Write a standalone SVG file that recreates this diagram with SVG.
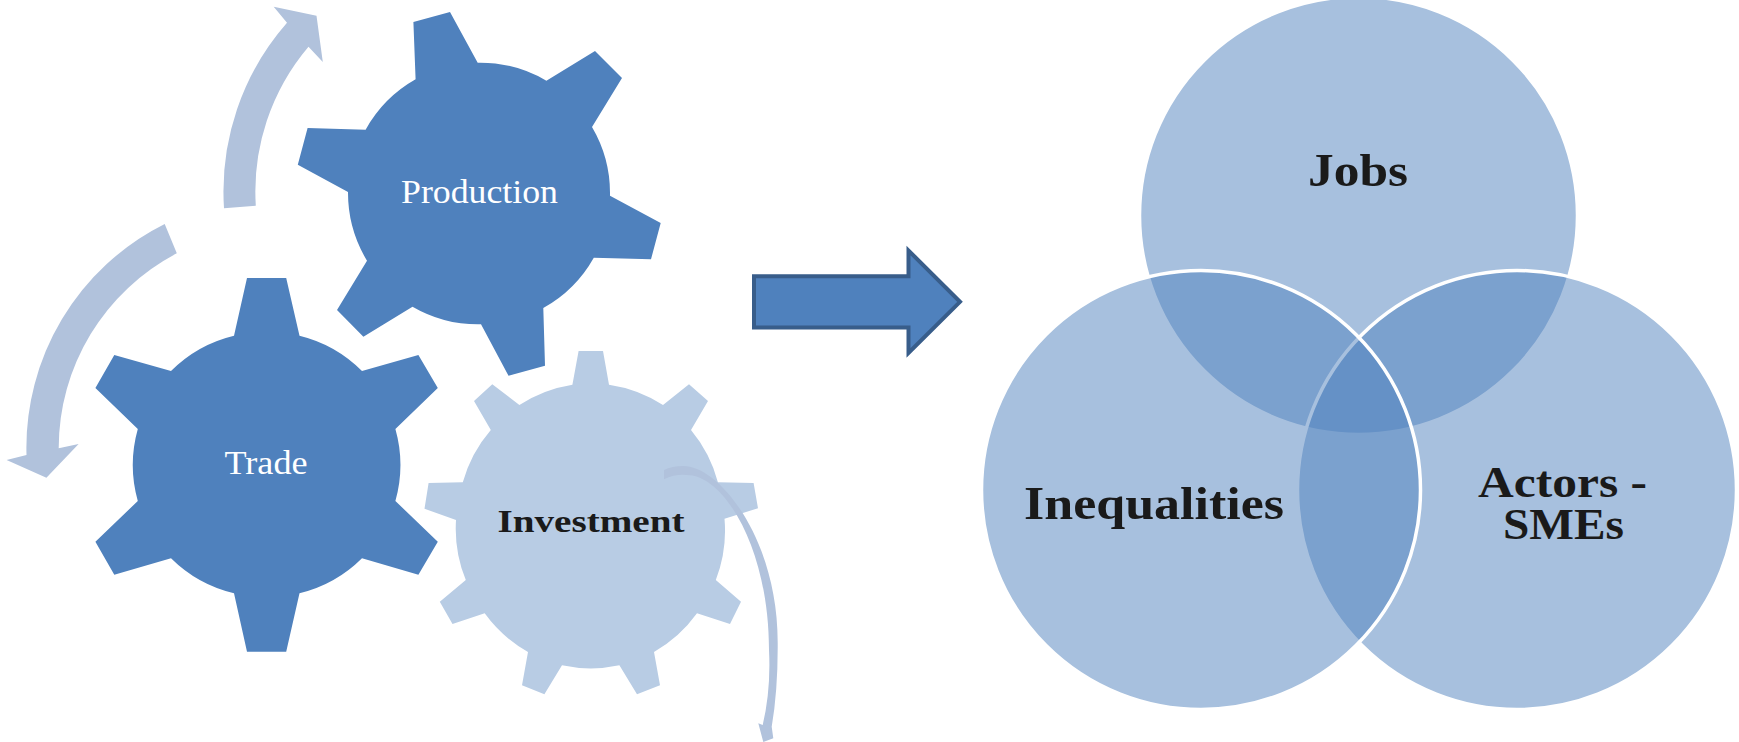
<svg xmlns="http://www.w3.org/2000/svg" width="1739" height="742" viewBox="0 0 1739 742">
<style>
.g1{fill:#4f81bd}.g2{fill:#b8cce4}.c{fill:#b1c2dc}
.v{fill:#4f81bd;fill-opacity:.5;stroke:#fff;stroke-width:3.5}
text{font-family:"Liberation Serif","DejaVu Serif",serif}
.w{fill:#fff;font-size:33px}
.b{fill:#1a1a1a;font-weight:700}
</style>
<rect width="1739" height="742" fill="#fff"/>
<g id="production">
<path class="g1" d="M413.4 22L450 12L477.7 62.7A131 131 0 0 1 546.4 80.7L595 51L622 78L592 127A131 131 0 0 1 610 195.7L660.7 223L651 259.3L593.8 257.7A131 131 0 0 1 543.3 308L545 365.7L508.5 375.7L481 324.3A131 131 0 0 1 412.5 306.7L363.4 336.7L337 310L367 260.7A131 131 0 0 1 348 192L297.8 164.7L307.6 128L365.6 129.7A131 131 0 0 1 415.6 79.3Z"/>
<text class="w" x="479.5" y="203" text-anchor="middle" textLength="157" lengthAdjust="spacingAndGlyphs">Production</text>
</g>
<g id="trade">
<path class="g1" d="M247 278H286.2L299.5 335.7A133 133 0 0 1 362 371L418.4 355L437.8 388L395.4 429A133 133 0 0 1 395.4 501L437.8 541.7L418.4 574.7L362 558.3A133 133 0 0 1 299.5 593.3L286.2 651.7H247L234 593.3A133 133 0 0 1 171 558.3L114.3 574.7L95.4 541.7L137.8 501A133 133 0 0 1 137.8 429L95.4 388L114.3 355L171 371A133 133 0 0 1 234 335.7Z"/>
<text class="w" x="266" y="474" text-anchor="middle" textLength="83" lengthAdjust="spacingAndGlyphs">Trade</text>
</g>
<g id="investment">
<path class="g2" d="M578.6 351H603L609 384.7A136 136 0 0 1 663 405L689 384.3L708 401L691 430A136 136 0 0 1 717.9 482.3L753.6 483L758 508.3L724.5 518.7A136 136 0 0 1 715.8 580L741 601.7L730 624L697 613.3A136 136 0 0 1 654 652L660 685.3L637 694.3L619.4 665.3A136 136 0 0 1 562 665.3L544.4 694.3L522 685.3L528 652A136 136 0 0 1 484.7 613.3L452.5 624L439.8 601.7L465.8 580A136 136 0 0 1 456 520L424.5 508.7L428.6 483L462.8 482.3A136 136 0 0 1 490.8 430L474 401L492.3 384.3L519.4 405A136 136 0 0 1 572.4 384.7Z"/>
<text class="b" x="591" y="531.5" font-size="32" text-anchor="middle" textLength="187" lengthAdjust="spacingAndGlyphs">Investment</text>
</g>
<g id="connectors">
<path class="c" d="M224 208.3A256 256 0 0 1 287 22.7L273.7 6.7L316.5 15.7L322.8 62L308.5 46.7A224 224 0 0 0 255.8 205.7Z"/>
<path class="c" d="M164.7 224A250 250 0 0 0 26.5 455L6.6 460L46.4 477.7L78.6 444L58.7 448.3A220 220 0 0 1 176.8 253.3Z"/>
<path class="c" d="M664 470Q672 466 683.3 466C720 466 778 540 777.7 643Q778 690 771.7 726.7L773.3 738.3L763.3 742L758.3 723.3L762.7 725Q771 690 769 650C769 550 725 475 686.7 475Q675 474 664 479.3Z"/>
<path id="block-arrow" d="M754 276.3H908.5V250.5L960 301.8L908.5 353V327.5H754Z" fill="#4f81bd" stroke="#385d8a" stroke-width="4"/>
</g>
<g id="jobs">
<circle class="v" cx="1358.5" cy="215.5" r="219"/>
</g>
<g id="actors">
<circle class="v" cx="1517" cy="490" r="219.5"/>
</g>
<g id="inequalities">
<circle class="v" cx="1201" cy="490" r="219.5"/>
</g>
<text class="b" x="1358" y="186" font-size="46" text-anchor="middle" textLength="100" lengthAdjust="spacingAndGlyphs">Jobs</text>
<text class="b" x="1154" y="518.5" font-size="46" text-anchor="middle" textLength="260" lengthAdjust="spacingAndGlyphs">Inequalities</text>
<text class="b" x="1562.5" y="496.5" font-size="44" text-anchor="middle" textLength="169" lengthAdjust="spacingAndGlyphs">Actors -</text>
<text class="b" x="1563.5" y="539" font-size="44" text-anchor="middle" textLength="121" lengthAdjust="spacingAndGlyphs">SMEs</text>
</svg>
